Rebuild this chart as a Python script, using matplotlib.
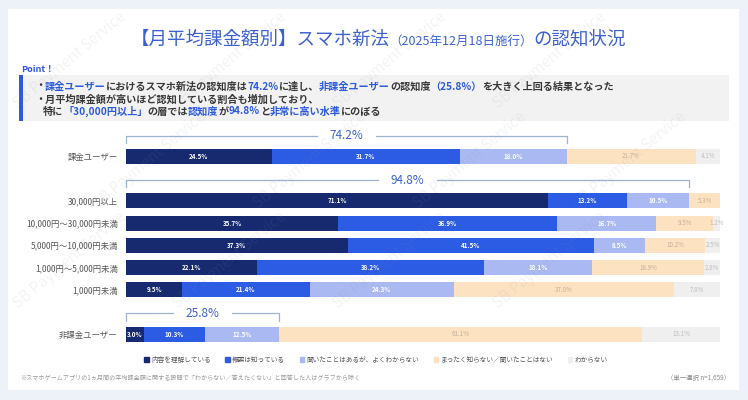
import matplotlib
matplotlib.use('Agg')
import matplotlib.pyplot as plt
from matplotlib.patches import Rectangle

plt.rcParams['font.family'] = ['Noto Sans CJK JP', 'DejaVu Sans']

# data
categories = ['課金ユーザー', '30,000円以上', '10,000円～30,000円未満', '5,000円～10,000円未満',
              '1,000円～5,000円未満', '1,000円未満', '非課金ユーザー']
series_names = ['内容を理解している', '概要は知っている', '聞いたことはあるが、よくわからない',
                'まったく知らない／聞いたことはない', 'わからない']
understand = [24.5, 71.1, 35.7, 37.3, 22.1, 9.5, 3.0]
outline = [31.7, 13.2, 36.9, 41.5, 38.2, 21.4, 10.3]
heard = [18.0, 10.5, 16.7, 8.5, 18.1, 24.3, 12.5]
never = [21.7, 5.3, 9.5, 10.2, 18.9, 37.0, 61.1]
unknown = [4.1, 0.0, 1.2, 2.5, 2.8, 7.8, 13.1]
row_pos = [0, 2, 3, 4, 5, 6, 8]
bracket_rows = [0, 1, 6]

colors = ['#172a70', '#2c5be4', '#aab9f1', '#fde2c2', '#efefef']
label_colors = ['white', 'white', 'white', '#c4b09a', '#bdbdbd']
label_weights = ['bold', 'bold', 'bold', 'normal', 'normal']
BLUE = '#2b59e0'
TITLE_BLUE = '#3d62d0'
DARK = '#383838'

fig = plt.figure(figsize=(7.48, 4.0), dpi=100)
fig.patch.set_facecolor('#edf2f9')

# background / decoration axes in pixel coordinates
bg = fig.add_axes([0, 0, 1, 1])
bg.set_xlim(0, 748)
bg.set_ylim(400, 0)
bg.axis('off')
bg.add_patch(Rectangle((8, 9), 731, 381, fc='white', ec='none'))
bg.add_patch(Rectangle((19, 75), 710, 46, fc='#f2f2f2', ec='none'))
bg.add_patch(Rectangle((19, 75), 4, 46, fc=BLUE, ec='none'))

renderer = fig.canvas.get_renderer()


def draw_parts(x, y, parts, weight='normal', center=False):
    # place text pieces one after another on a shared baseline
    cx = x
    items = []
    for s, color, fs in parts:
        t = bg.text(cx, y, s, color=color, fontsize=fs, va='baseline', weight=weight)
        cx += t.get_window_extent(renderer=renderer).width
        items.append(t)
    if center:
        shift = (cx - x) / 2
        for t in items:
            t.set_x(t.get_position()[0] - shift)


draw_parts(378, 45, [('【月平均課金額別】スマホ新法', TITLE_BLUE, 13.3),
                     ('（2025年12月18日施行）', TITLE_BLUE, 9.0),
                     ('の認知状況', TITLE_BLUE, 13.3)], center=True)

bg.text(21, 70, 'Point！', color=BLUE, fontsize=6.5, weight='bold', va='center')

fs = 7.3
draw_parts(35, 89.5, [('・', DARK, fs), ('課金ユーザー', BLUE, fs),
                      ('におけるスマホ新法の認知度は', DARK, fs), ('74.2%', BLUE, fs),
                      ('に達し、', DARK, fs), ('非課金ユーザー', BLUE, fs),
                      ('の認知度', DARK, fs), ('（25.8%）', BLUE, fs),
                      ('を大きく上回る結果となった', DARK, fs)], weight='bold')
draw_parts(35, 102.5, [('・月平均課金額が高いほど認知している割合も増加しており、', DARK, fs)],
           weight='bold')
draw_parts(43, 114.5, [('特に', DARK, fs), ('「30,000円以上」', BLUE, fs), ('の層では', DARK, fs),
                       ('認知度', BLUE, fs), ('が', DARK, fs), ('94.8%', BLUE, fs),
                       ('と', DARK, fs), ('非常に高い水準', BLUE, fs), ('にのぼる', DARK, fs)],
           weight='bold')

bg.text(20, 378, '※スマホゲームアプリの1ヵ月間の平均課金額に関する設問で「わからない／答えたくない」と回答した人はグラフから除く',
        fontsize=4.4, color='#9a9a9a', va='center')
bg.text(730, 378, '（単一選択 n=1,659）', fontsize=4.6, color='#8a8a8a', va='center', ha='right')

# chart axes
unit = 22.2
top_px = 156.5 - 1.5 * unit
bot_px = 156.5 + 8.8 * unit
ax = fig.add_axes([126 / 748, 1 - bot_px / 400, 594 / 748, (bot_px - top_px) / 400])
ax.set_facecolor('none')
ax.set_xlim(0, 100)
ax.set_ylim(8.8, -1.5)
for sp in ax.spines.values():
    sp.set_visible(False)
ax.set_xticks([])
ax.set_yticks(row_pos)
ax.set_yticklabels(categories, fontsize=6, color='#555555')
ax.tick_params(axis='y', length=0, pad=6)

series = [understand, outline, heard, never, unknown]
left = [0.0] * len(categories)
for k, vals in enumerate(series):
    ax.barh(row_pos, vals, left=left, height=0.675, color=colors[k], linewidth=0)
    for i, v in enumerate(vals):
        if v > 0:
            ax.text(left[i] + v / 2, row_pos[i], f'{v:.1f}%', ha='center', va='center',
                    fontsize=4.5, color=label_colors[k], weight=label_weights[k])
    left = [l + v for l, v in zip(left, vals)]

# awareness brackets
gap = 5.0
for i in bracket_rows:
    total = understand[i] + outline[i] + heard[i]
    yb = row_pos[i] - 0.93
    mid = total / 2
    ax.plot([0, 0, mid - gap], [yb + 0.32, yb, yb], color='#9fb2d2', lw=0.9, clip_on=False)
    ax.plot([mid + gap, total, total], [yb, yb, yb + 0.32], color='#9fb2d2', lw=0.9, clip_on=False)
    ax.text(mid, yb, f'{total:.1f}%', ha='center', va='center', fontsize=8.5, color=TITLE_BLUE)

handles = [Rectangle((0, 0), 1, 1, color=c) for c in colors]
fig.legend(handles, series_names, loc='center', bbox_to_anchor=(376 / 748, 1 - 360 / 400),
           ncol=5, frameon=False, fontsize=4.8, handlelength=0.7, handleheight=0.7,
           handletextpad=0.3, columnspacing=2.2, labelcolor='#555555')

# faint watermark on top, kept inside the picture
wm = fig.add_axes([0, 0, 1, 1])
wm.set_xlim(0, 748)
wm.set_ylim(400, 0)
wm.axis('off')
for r, yw in enumerate(range(60, 360, 100)):
    for xw in range(70 + (r % 2) * 80, 690, 160):
        wm.text(xw, yw, 'SB Payment Service', fontsize=11, rotation=40, color='#8a94a8',
                alpha=0.10, ha='center', va='center')

fig.savefig('out.png', dpi=100, facecolor=fig.get_facecolor())
